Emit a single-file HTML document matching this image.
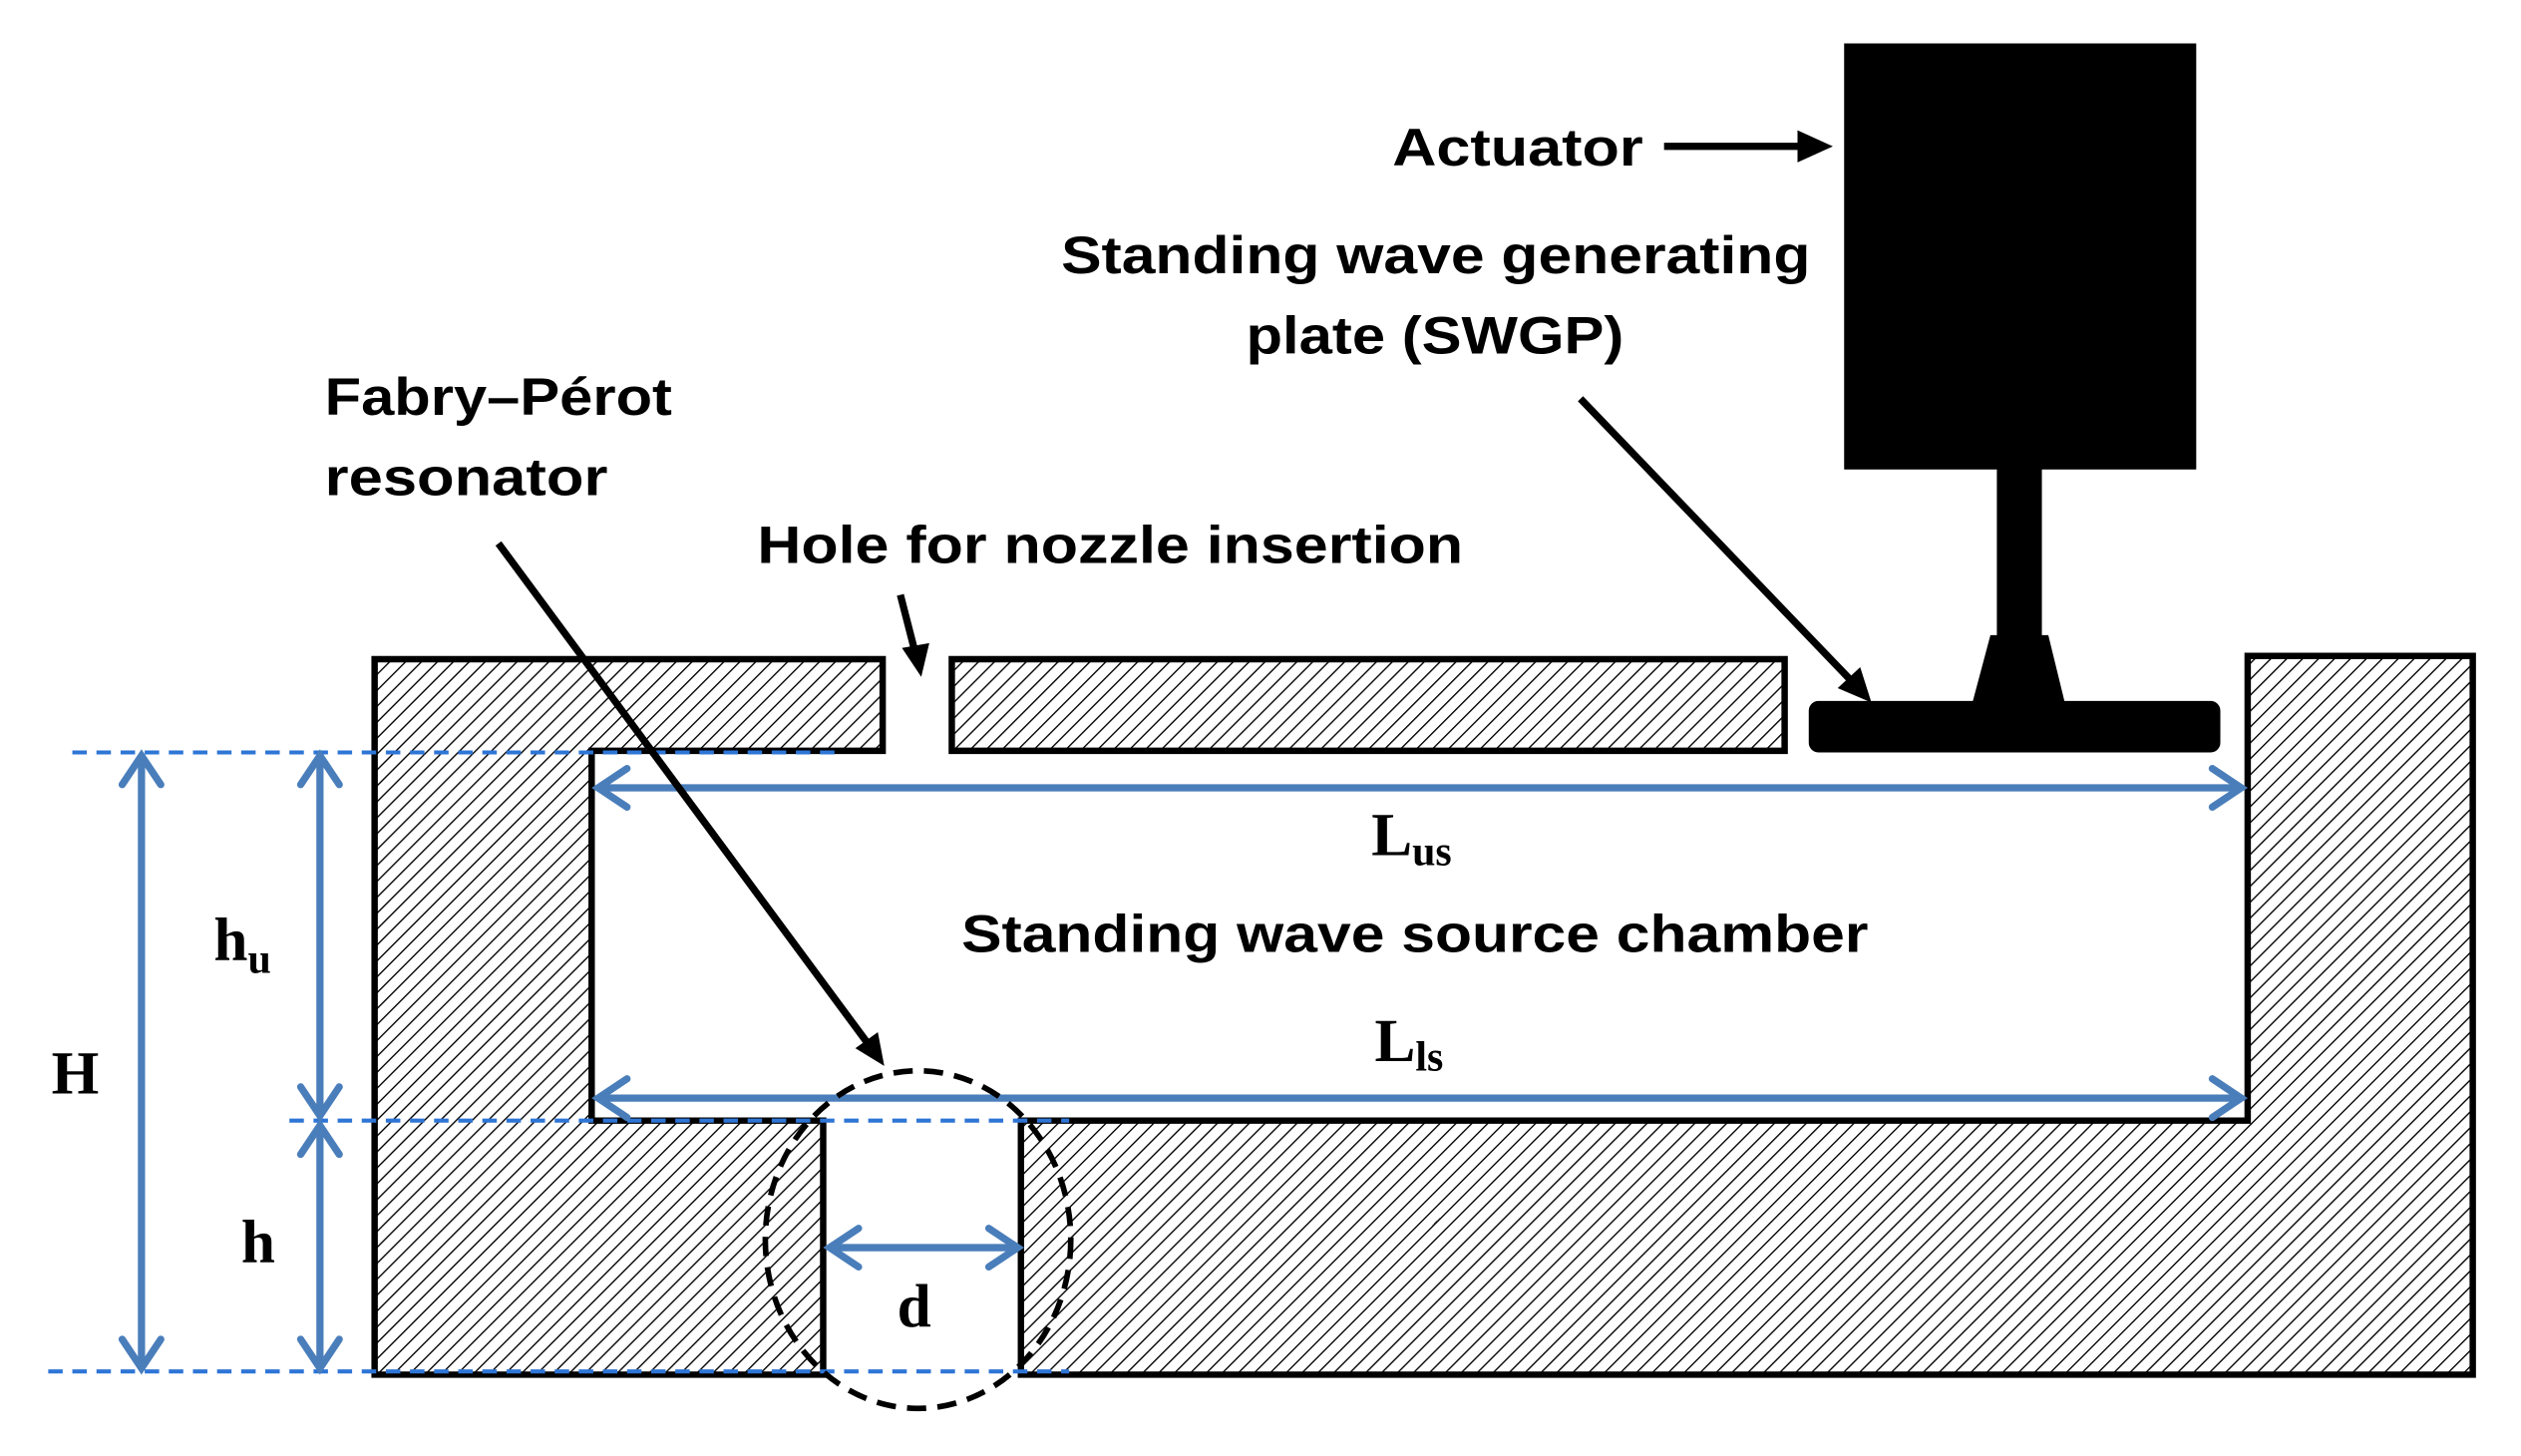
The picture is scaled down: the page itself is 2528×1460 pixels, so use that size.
<!DOCTYPE html>
<html><head><meta charset="utf-8">
<style>
html,body{margin:0;padding:0;background:#fff;}
svg{display:block;}
.s{font-family:"Liberation Sans",sans-serif;font-weight:bold;font-size:33px;fill:#000;}
.r{font-family:"Liberation Serif",serif;font-weight:bold;font-size:38px;fill:#000;}
.sub{font-size:26px;}
</style></head>
<body>
<svg width="2528" height="1460" viewBox="0 0 1568 905.6" preserveAspectRatio="none" xmlns="http://www.w3.org/2000/svg">
<defs>
<pattern id="h" patternUnits="userSpaceOnUse" width="7" height="7" patternTransform="rotate(45)">
<line x1="0" y1="0" x2="0" y2="7" stroke="#000" stroke-width="1.7"/>
</pattern>
</defs>
<g fill="url(#h)" stroke="#000" stroke-width="4">
<polygon points="233,410 549,410 549,467 368,467 368,697 512,697 512,855 233,855"/>
<polygon points="592,410 1110,410 1110,467 592,467"/>
<polygon points="1398,408 1538,408 1538,855 635,855 635,697 1398,697"/>
</g>
<rect x="1147" y="27" width="219" height="265" fill="#000"/>
<rect x="1242" y="288" width="28" height="110" fill="#000"/>
<polygon points="1238,395 1274,395 1285,440 1226,440" fill="#000"/>
<rect x="1125" y="436" width="256" height="32" rx="6" fill="#000"/>
<g stroke="#2e75d6" stroke-width="2.5" stroke-dasharray="9,6" fill="none">
<line x1="45" y1="468" x2="520" y2="468"/>
<line x1="180" y1="697" x2="665" y2="697"/>
<line x1="30" y1="853" x2="665" y2="853"/>
</g>
<g stroke="#4a7ebb" stroke-width="4.5" fill="none" stroke-linecap="round">
<line x1="374" y1="490" x2="1392" y2="490"/>
<polyline points="390,478 372,490 390,502"/><polyline points="1376,478 1394,490 1376,502"/>
<line x1="374" y1="683" x2="1392" y2="683"/>
<polyline points="390,671 372,683 390,695"/><polyline points="1376,671 1394,683 1376,695"/>
<line x1="199" y1="472" x2="199" y2="692"/>
<polyline points="187,488 199,470 211,488"/><polyline points="187,676 199,694 211,676"/>
<line x1="199" y1="702" x2="199" y2="849"/>
<polyline points="187,718 199,700 211,718"/><polyline points="187,833 199,851 211,833"/>
<line x1="88" y1="472" x2="88" y2="849"/>
<polyline points="76,488 88,470 100,488"/><polyline points="76,833 88,851 100,833"/>
<line x1="518" y1="776" x2="631" y2="776"/>
<polyline points="534,764 516,776 534,788"/><polyline points="615,764 633,776 615,788"/>
</g>
<ellipse cx="571" cy="771" rx="95" ry="105" fill="none" stroke="#000" stroke-width="3.5" stroke-dasharray="12,7"/>
<g stroke="#000" stroke-width="4.5" fill="#000">
<line x1="1035" y1="91" x2="1122" y2="91"/>
<polygon points="1140,91 1118,81 1118,101" stroke="none"/>
<line x1="983" y1="248" x2="1152" y2="424"/>
<polygon points="1164,437 1143,428 1157,415" stroke="none"/>
<line x1="560" y1="370" x2="569" y2="405"/>
<polygon points="573,421 561,403 578,400" stroke="none"/>
<line x1="310" y1="338" x2="539" y2="648"/>
<polygon points="550,663 532,652 546,642" stroke="none"/>
</g>
<text class="s" x="866" y="103" textLength="156" lengthAdjust="spacingAndGlyphs">Actuator</text>
<text class="s" x="660" y="170" textLength="466" lengthAdjust="spacingAndGlyphs">Standing wave generating</text>
<text class="s" x="775" y="220" textLength="235" lengthAdjust="spacingAndGlyphs">plate (SWGP)</text>
<text class="s" x="202" y="258" textLength="216" lengthAdjust="spacingAndGlyphs">Fabry–Pérot</text>
<text class="s" x="202" y="308" textLength="176" lengthAdjust="spacingAndGlyphs">resonator</text>
<text class="s" x="471" y="350" textLength="439" lengthAdjust="spacingAndGlyphs">Hole for nozzle insertion</text>
<text class="s" x="598" y="592" textLength="564" lengthAdjust="spacingAndGlyphs">Standing wave source chamber</text>
<text class="r" x="853" y="532">L<tspan class="sub" dy="6">us</tspan></text>
<text class="r" x="855" y="660">L<tspan class="sub" dy="6">ls</tspan></text>
<text class="r" x="133" y="597">h<tspan class="sub" dy="8">u</tspan></text>
<text class="r" x="32" y="680">H</text>
<text class="r" x="150" y="785">h</text>
<text class="r" x="558" y="825">d</text>
</svg>
</body></html>
